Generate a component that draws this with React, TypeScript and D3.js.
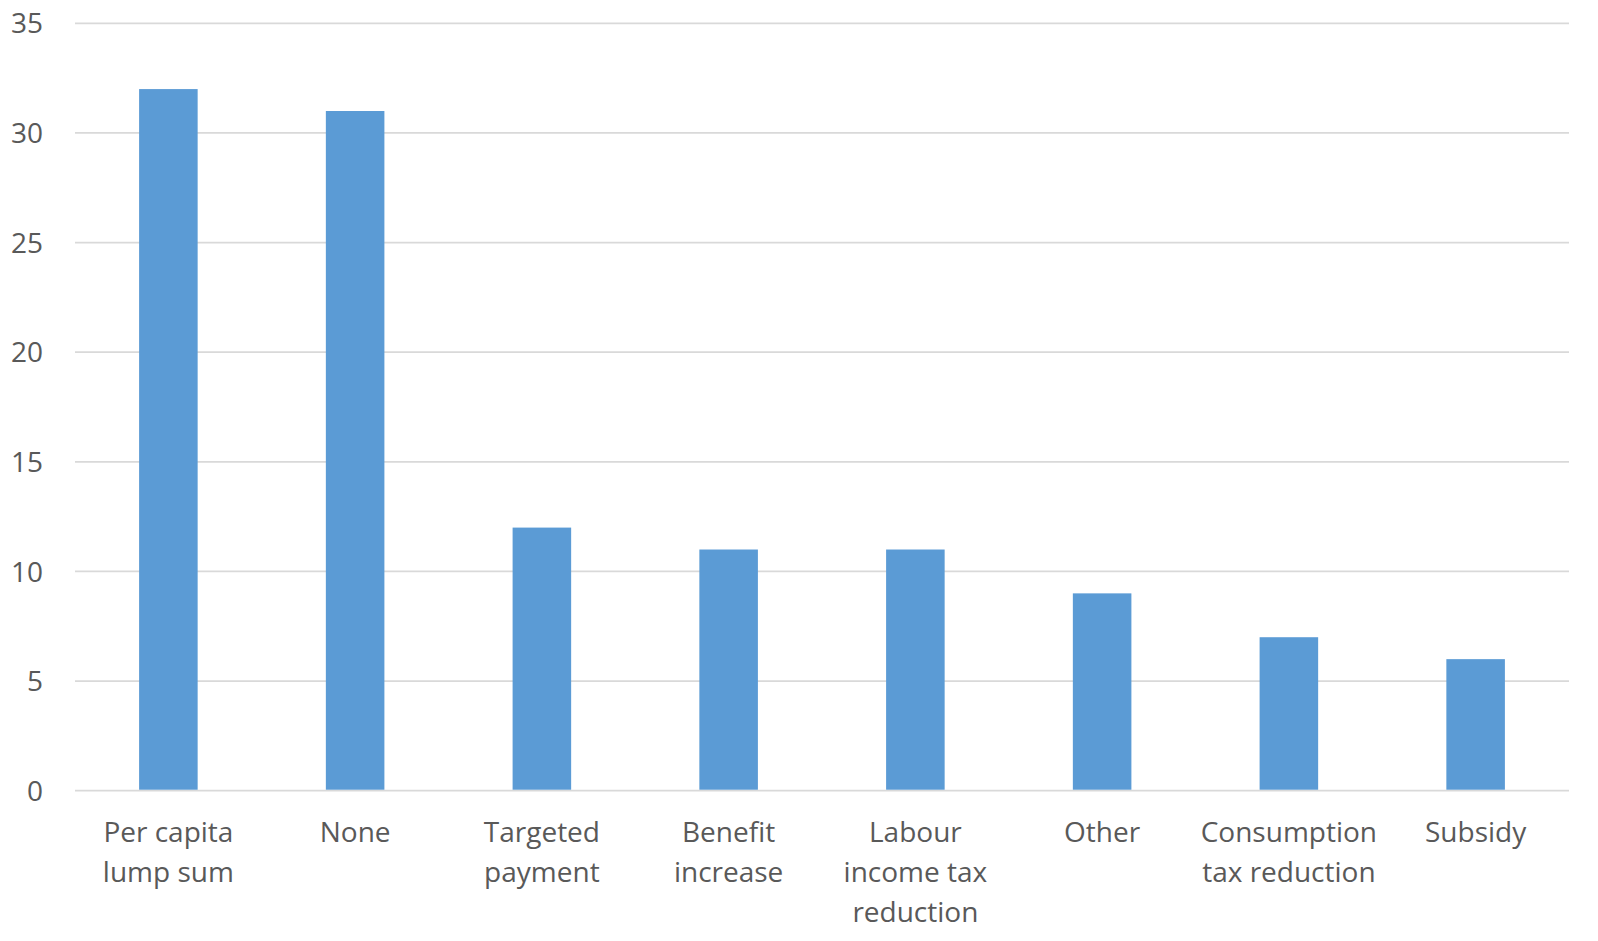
import React, { useEffect } from "react";
import * as d3 from "d3";

const categories: string[][] = [
  ["Per capita", "lump sum"],
  ["None"],
  ["Targeted", "payment"],
  ["Benefit", "increase"],
  ["Labour", "income tax", "reduction"],
  ["Other"],
  ["Consumption", "tax reduction"],
  ["Subsidy"],
];
const values: number[] = [32, 31, 12, 11, 11, 9, 7, 6];
const yTicks: number[] = [0, 5, 10, 15, 20, 25, 30, 35];

const W = 1598;
const H = 941;
const left = 75;
const right = 1569;
const top = 23.3;
const bottom = 790.7;

export default function App() {
  useEffect(() => {
    document.body.style.margin = "0";
  }, []);
  const keys = categories.map((c) => c.join(" "));
  const x = d3.scaleBand<string>().domain(keys).range([left, right]).paddingInner(0.6865).paddingOuter(0.6865 / 2);
  const y = d3.scaleLinear().domain([0, 35]).range([bottom, top]);
  const font = "'Open Sans', sans-serif";
  return (
    <svg width={W} height={H} style={{ display: "block" }}>
      <rect width={W} height={H} fill="#fff" />
      {yTicks.map((t) => (
        <g key={t}>
          <line x1={left} x2={right} y1={y(t)} y2={y(t)} stroke="#d9d9d9" strokeWidth={1.8} />
          <text x={43} y={y(t)} dy="0.36em" textAnchor="end" fontFamily={font} fontSize={28} fill="#595959">
            {t}
          </text>
        </g>
      ))}
      {values.map((v, i) => (
        <rect
          key={keys[i]}
          x={x(keys[i])}
          width={x.bandwidth()}
          y={y(v)}
          height={y(0) - y(v) - 1}
          fill="#5b9bd5"
        />
      ))}
      {categories.map((lines, i) => (
        <text key={keys[i]} textAnchor="middle" fontFamily={font} fontSize={28} fill="#595959">
          {lines.map((l, j) => (
            <tspan key={j} x={(x(keys[i]) as number) + x.bandwidth() / 2} y={842 + j * 40}>
              {l}
            </tspan>
          ))}
        </text>
      ))}
    </svg>
  );
}
